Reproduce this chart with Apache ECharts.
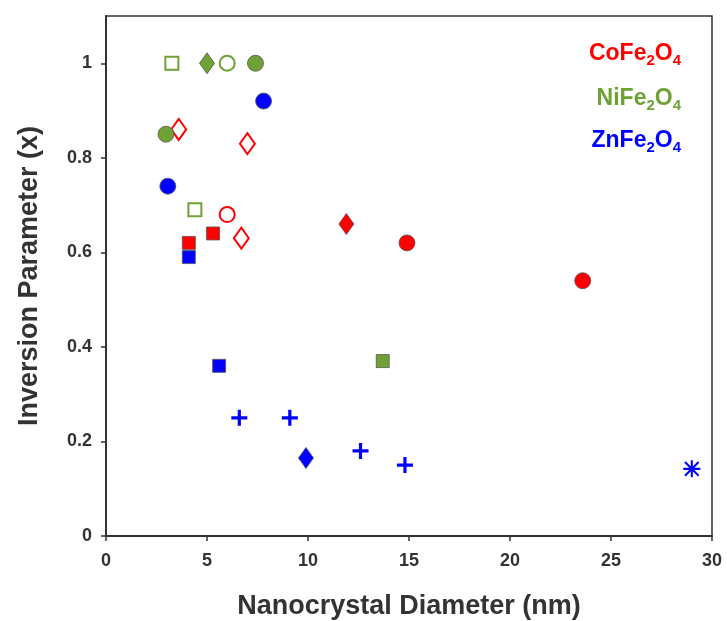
<!DOCTYPE html>
<html><head><meta charset="utf-8">
<script src="https://cdn.jsdelivr.net/npm/echarts@6/dist/echarts.min.js"></script>
<style>html,body{margin:0;padding:0;background:#fff}#c{width:727px;height:621px}</style>
</head><body><div id="c"></div>
<script>
// ---- data: [diameter (nm), inversion parameter] ----
const coFilledCircle = [[14.9, 0.62], [23.6, 0.54]];
const coFilledSquare = [[4.1, 0.62], [5.3, 0.64]];
const coFilledDiamond = [[11.9, 0.66]];
const coOpenCircle = [[6.0, 0.68]];
const coOpenDiamond = [[3.6, 0.86], [7.0, 0.83], [6.7, 0.63]];

const niFilledCircle = [[7.4, 1.0], [2.97, 0.85]];
const niFilledSquare = [[13.7, 0.37]];
const niFilledDiamond = [[5.0, 1.0]];
const niOpenCircle = [[6.0, 1.0]];
const niOpenSquare = [[3.26, 1.0], [4.4, 0.69]];

const znFilledCircle = [[7.8, 0.92], [3.06, 0.74]];
const znFilledSquare = [[4.1, 0.59], [5.6, 0.36]];
const znFilledDiamond = [[9.9, 0.165]];
const znPlus = [[6.6, 0.25], [9.1, 0.25], [12.6, 0.18], [14.8, 0.15]];
const znAsterisk = [[29.0, 0.142]];

const xTicks = [0, 5, 10, 15, 20, 25, 30];
const yTicks = [0, 0.2, 0.4, 0.6, 0.8, 1];
const legendNames = ['CoFe{s|2}O{s|4}', 'NiFe{s|2}O{s|4}', 'ZnFe{s|2}O{s|4}'];

const RED = '#ff0000', GREEN = '#6ea235', BLUE = '#0000ff', EDGE = '#555555';
const FONT = 'Liberation Sans';
const PLUS = 'path://M4,0 L6,0 L6,4 L10,4 L10,6 L6,6 L6,10 L4,10 L4,6 L0,6 L0,4 L4,4 Z';
const AST = 'path://M0,8.8 L20,8.8 L20,11.2 L0,11.2 Z M8.8,0 L11.2,0 L11.2,20 L8.8,20 Z M2.85,1.15 L18.85,17.15 L17.15,18.85 L1.15,2.85 Z M17.15,1.15 L18.85,2.85 L2.85,18.85 L1.15,17.15 Z';
const DIA = [15, 21];

function filled(data, color, symbol, size) {
  return { type: 'scatter', data, symbol, symbolSize: size,
    itemStyle: { color, borderColor: EDGE, borderWidth: 0.8, opacity: 1 } };
}
function open(data, color, symbol, size) {
  return { type: 'scatter', data, symbol, symbolSize: size,
    itemStyle: { color: '#ffffff', borderColor: color, borderWidth: 2, opacity: 1 } };
}
function glyph(data, color, symbol, size) {
  return { type: 'scatter', data, symbol, symbolSize: size,
    itemStyle: { color, borderWidth: 0, opacity: 1 } };
}

const chart = echarts.init(document.getElementById('c'));
const axisCommon = {
  axisLine: { show: true, lineStyle: { color: '#333', width: 2 } },
  axisTick: { show: true, length: 5, lineStyle: { color: '#333', width: 1.5 } },
  axisLabel: { color: '#333', fontFamily: FONT, fontWeight: 'bold', fontSize: 18 },
  splitLine: { show: false },
  nameTextStyle: { color: '#333', fontFamily: FONT, fontWeight: 'bold', fontSize: 27 }
};
chart.setOption({
  animation: false,
  backgroundColor: '#fff',
  grid: { left: 106, right: 15, top: 16, bottom: 85, show: true, borderColor: '#333', borderWidth: 1.5,
          outerBoundsMode: 'none', containLabel: false },
  xAxis: Object.assign({}, axisCommon, {
    type: 'value', min: xTicks[0], max: xTicks[xTicks.length - 1], interval: 5,
    name: 'Nanocrystal Diameter (nm)', nameLocation: 'middle', nameGap: 57,
    axisLabel: Object.assign({}, axisCommon.axisLabel, { margin: 16 })
  }),
  yAxis: Object.assign({}, axisCommon, {
    type: 'value', min: 0, max: 1.1, interval: 0.2,
    name: 'Inversion Parameter (x)', nameLocation: 'middle', nameGap: 63,
    axisTick: Object.assign({}, axisCommon.axisTick, { customValues: yTicks }),
    axisLabel: Object.assign({}, axisCommon.axisLabel, {
      margin: 14, customValues: yTicks,
      formatter: v => String(+v.toFixed(1))
    })
  }),
  series: [
    open(coOpenDiamond, RED, 'diamond', DIA),
    open(coOpenCircle, RED, 'circle', 15),
    filled(coFilledSquare, RED, 'rect', 13),
    filled(coFilledDiamond, RED, 'diamond', DIA),
    filled(coFilledCircle, RED, 'circle', 16),
    open(niOpenSquare, GREEN, 'rect', 13),
    open(niOpenCircle, GREEN, 'circle', 15),
    filled(niFilledDiamond, GREEN, 'diamond', DIA),
    filled(niFilledSquare, GREEN, 'rect', 13),
    filled(niFilledCircle, GREEN, 'circle', 16),
    filled(znFilledCircle, BLUE, 'circle', 16),
    filled(znFilledSquare, BLUE, 'rect', 13),
    filled(znFilledDiamond, BLUE, 'diamond', DIA),
    glyph(znPlus, BLUE, PLUS, 16),
    glyph(znAsterisk, BLUE, AST, 17)
  ],
  graphic: legendNames.map((t, i) => ({
    type: 'text', right: 46, top: [42, 87, 129][i],
    style: {
      text: t, fill: [RED, GREEN, BLUE][i],
      font: 'bold 23px "Liberation Sans"',
      rich: { s: { fontSize: 15, fontWeight: 'bold', fontFamily: FONT, fill: [RED, GREEN, BLUE][i], padding: [14, 0, 0, 0] } }
    }
  }))
});
</script></body></html>
